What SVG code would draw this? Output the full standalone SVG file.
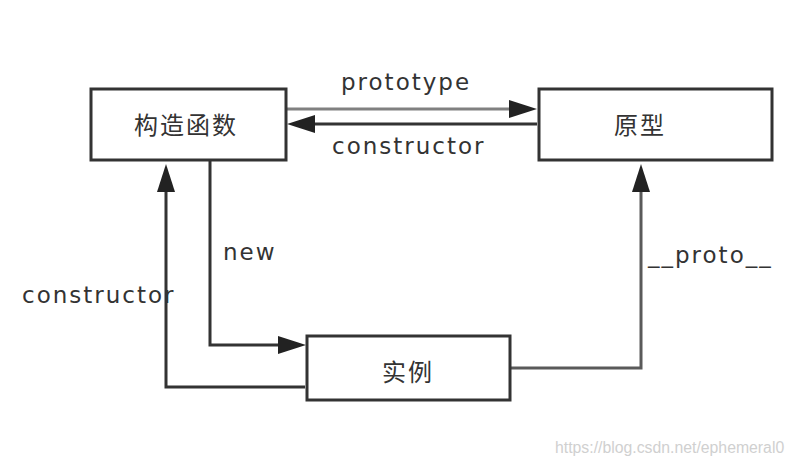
<svg xmlns="http://www.w3.org/2000/svg" width="793" height="465" viewBox="0 0 793 465">
  <style>
    .box { fill: #ffffff; stroke: #333333; stroke-width: 3; }
    .zh { font-family: "Noto Sans CJK SC", "DejaVu Sans", sans-serif; font-size: 24px; fill: #333333; letter-spacing: 2px; }
    .lbl { font-family: "DejaVu Sans", "Liberation Sans", sans-serif; font-size: 23px; fill: #333333; letter-spacing: 2px; }
    .ln { fill: none; stroke: #333333; stroke-width: 3; }
    .gray { stroke: #808080; }
    .mid { stroke: #5a5a5a; }
    .wm { font-family: "Liberation Sans", Arial, sans-serif; font-size: 15.8px; fill: #d0d0d0; }
  </style>
  <defs>
    <marker id="arr" markerUnits="userSpaceOnUse" markerWidth="28" markerHeight="18" refX="0" refY="9" orient="auto" overflow="visible">
      <path d="M0,0 L28,9 L0,18 Z" fill="#222222"/>
    </marker>
  </defs>

  <g id="connectors">
    <g id="edge-prototype">
      <path class="ln gray" d="M287,109 H509" marker-end="url(#arr)"/>
      <text class="lbl" x="341" y="90">prototype</text>
    </g>
    <g id="edge-constructor-top">
      <path class="ln" d="M537,124 H315" marker-end="url(#arr)"/>
      <text class="lbl" x="332" y="154">constructor</text>
    </g>
    <g id="edge-new">
      <path class="ln" d="M210,161 V345 H278" marker-end="url(#arr)"/>
      <text class="lbl" x="223" y="260">new</text>
    </g>
    <g id="edge-constructor-left">
      <path class="ln" d="M305,387 H166 V192" marker-end="url(#arr)"/>
      <text class="lbl" x="22" y="303">constructor</text>
    </g>
    <g id="edge-proto">
      <path class="ln mid" d="M511,368 H641 V192" marker-end="url(#arr)"/>
      <text class="lbl" x="648" y="263">__proto__</text>
    </g>
  </g>

  <g id="node-constructor">
    <rect class="box" x="91" y="89" width="195" height="71"/>
    <text class="zh" x="134" y="134">构造函数</text>
  </g>
  <g id="node-prototype">
    <rect class="box" x="539" y="89" width="233" height="71"/>
    <text class="zh" x="614" y="134">原型</text>
  </g>
  <g id="node-instance">
    <rect class="box" x="307" y="336" width="203" height="64"/>
    <text class="zh" x="382" y="381">实例</text>
  </g>

  <text class="wm" x="555" y="453">https://blog.csdn.net/ephemeral0</text>
</svg>
